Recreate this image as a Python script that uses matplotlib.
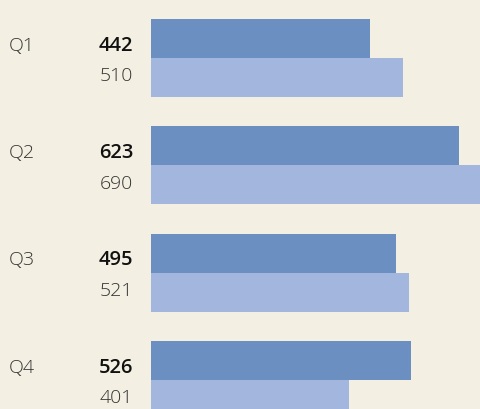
import matplotlib
matplotlib.use("Agg")
import matplotlib.pyplot as plt
import matplotlib.transforms as mtransforms

categories = ["Q1", "Q2", "Q3", "Q4"]
series_a = [442, 623, 495, 526]
series_b = [510, 690, 521, 401]

bg = "#f3efe2"
col_a = "#6a8fc0"
col_b = "#a3b7de"

fig = plt.figure(figsize=(4.8, 4.09), dpi=100, facecolor=bg)
ax = fig.add_axes([151 / 480, 0, 1 - 151 / 480, 1])
ax.set_facecolor(bg)

h = 0.362
ys = list(range(len(categories)))
ax.barh([y - h / 2 for y in ys], series_a, height=h, color=col_a, linewidth=0)
ax.barh([y + h / 2 for y in ys], series_b, height=h, color=col_b, linewidth=0)

ax.set_xlim(0, 665.3)
ax.set_ylim(3.27, -0.54)
ax.axis("off")

tr = mtransforms.blended_transform_factory(fig.transFigure, ax.transData)
fam = ["Open Sans", "DejaVu Sans"]
for y, c, a, b in zip(ys, categories, series_a, series_b):
    ax.text(9 / 480, y - 0.115, c, transform=tr, ha="left", va="center",
            fontsize=14, color="#333333", family=fam, fontweight="light")
    ax.text(133 / 480, y - 0.115, str(a), transform=tr, ha="right", va="center",
            fontsize=14.5, color="#111111", family=fam, fontweight="semibold")
    ax.text(133 / 480, y + 0.17, str(b), transform=tr, ha="right", va="center",
            fontsize=14, color="#333333", family=fam, fontweight="light")

fig.savefig("out.png", dpi=100, facecolor=bg)
